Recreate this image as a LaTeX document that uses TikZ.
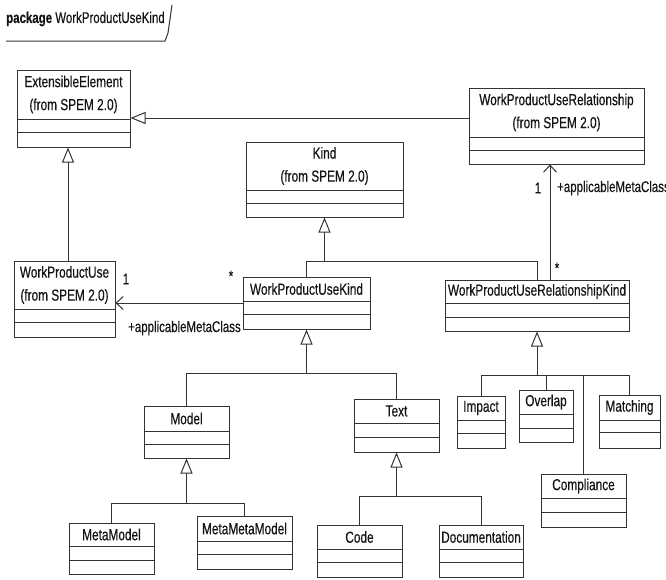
\documentclass[tikz,border=0pt]{standalone}
\usepackage{fontspec}
\setmainfont{Liberation Sans}[FakeStretch=0.74, FakeBold=0.35]
\usetikzlibrary{arrows.meta,fit}

\definecolor{inkline}{HTML}{333333}
\definecolor{inktext}{HTML}{141414}

\tikzset{
  classbox/.style={draw=inkline, line width=1pt, inner sep=0pt, fill=white},
  sepline/.style={draw=inkline, line width=1pt},
  classname/.style={text=inktext, inner sep=0pt, align=center,
    font=\fontsize{16}{23}\selectfont},
  rolelabel/.style={text=inktext, inner sep=0pt,
    font=\fontsize{15.5}{17}\selectfont},
  conn/.style={draw=inkline, line width=1pt},
  gen/.style={conn, -{Triangle[open, length=15pt, width=12pt, fill=white]}},
  assoc/.style={conn, -{Straight Barb[length=7pt, width=13pt]}},
}

% #1 name, #2 left, #3 top, #4 right, #5 bottom, #6/#7 compartment lines, #8 title
\newcommand{\umlclass}[8]{%
  \node[classbox, fit={(#2,#3) (#4,#5)}] (#1) {};
  \draw[sepline] (#2,#6) -- (#4,#6) (#2,#7) -- (#4,#7);
  \node[classname] (#1-title) at ({(#2+#4)/2},{(#3+#6)/2}) {#8};
}

\begin{document}
\begin{tikzpicture}[x=1pt, y=-1pt]
  \useasboundingbox[fill=white] (0,0) rectangle (666,579);

  % package tab
  \node[rolelabel, anchor=west] (pkg) at (6,19) {\textbf{package} WorkProductUseKind};
  \draw[conn] (6,41) -- (165,41) -- (168,33) -- (172,5);

  % classes
  \umlclass{ee}{17}{70}{130}{147}{119}{132}{ExtensibleElement\\(from SPEM 2.0)}
  \umlclass{wpur}{469}{88}{644}{164}{137}{150}{WorkProductUseRelationship\\(from SPEM 2.0)}
  \umlclass{kind}{246}{142}{403}{217}{190}{203}{Kind\\(from SPEM 2.0)}
  \umlclass{wpu}{14}{261}{115}{337}{309}{322}{WorkProductUse\\(from SPEM 2.0)}
  \umlclass{wpuk}{243}{277}{370}{329}{301}{314}{WorkProductUseKind}
  \umlclass{wpurk}{445}{280}{629}{331}{303}{317}{WorkProductUseRelationshipKind}

  \umlclass{model}{144}{406}{229}{458}{431}{444}{Model}
  \umlclass{text}{354}{399}{439}{452}{423}{437}{Text}
  \umlclass{metamodel}{69}{523}{154}{574}{546}{560}{MetaModel}
  \umlclass{metametamodel}{197}{516}{292}{569}{541}{554}{MetaMetaModel}
  \umlclass{code}{317}{525}{402}{577}{549}{562}{Code}
  \umlclass{doc}{439}{525}{523}{577}{549}{562}{Documentation}

  \umlclass{impact}{457}{396}{505}{448}{420}{433}{Impact}
  \umlclass{overlap}{519}{390}{573}{442}{414}{428}{Overlap}
  \umlclass{matching}{599}{395}{660}{448}{420}{432}{Matching}
  \umlclass{compliance}{541}{474}{626}{527}{498}{512}{Compliance}

  % generalizations to SPEM classes
  \draw[gen] (wpur.west |- 0,118) -- (ee.east |- 0,118);
  \draw[gen] (wpu.north -| 68,0) -- (ee.south -| 68,0);

  % Kind hierarchy
  \draw[conn] (wpuk.north) |- (wpurk.north |- 0,261) -- (wpurk.north);
  \draw[gen] (kind.south |- 0,261) -- (kind.south);

  % WorkProductUseKind hierarchy
  \draw[conn] (model.north) |- (text.north |- 0,373) -- (text.north);
  \draw[gen] (wpuk.south |- 0,373) -- (wpuk.south);

  \draw[conn] (metamodel.north) |- (metametamodel.north |- 0,503) -- (metametamodel.north);
  \draw[gen] (model.south |- 0,503) -- (model.south);

  \draw[conn] (code.north) |- (doc.north |- 0,496) -- (doc.north);
  \draw[gen] (text.south |- 0,496) -- (text.south);

  % WorkProductUseRelationshipKind hierarchy
  \draw[conn] (impact.north) |- (matching.north |- 0,375) -- (matching.north);
  \draw[conn] (overlap.north) -- (overlap.north |- 0,375);
  \draw[conn] (compliance.north) -- (compliance.north |- 0,375);
  \draw[gen] (wpurk.south |- 0,375) -- (wpurk.south);

  % associations
  \draw[assoc] (wpuk.west) -- (wpu.east |- wpuk.west);
  \node[rolelabel] (m1) at (126,279) {1};
  \node[rolelabel] (m2) at (231,276) {*};
  \node[rolelabel, anchor=west] (r1) at (128,328) {+applicableMetaClass};

  \draw[assoc] (wpurk.north -| 550,0) -- (wpur.south -| 550,0);
  \node[rolelabel] (m3) at (538,188) {1};
  \node[rolelabel] (m4) at (557,268) {*};
  \node[rolelabel, anchor=west] (r2) at (557,188) {+applicableMetaClass};
\end{tikzpicture}
\end{document}
